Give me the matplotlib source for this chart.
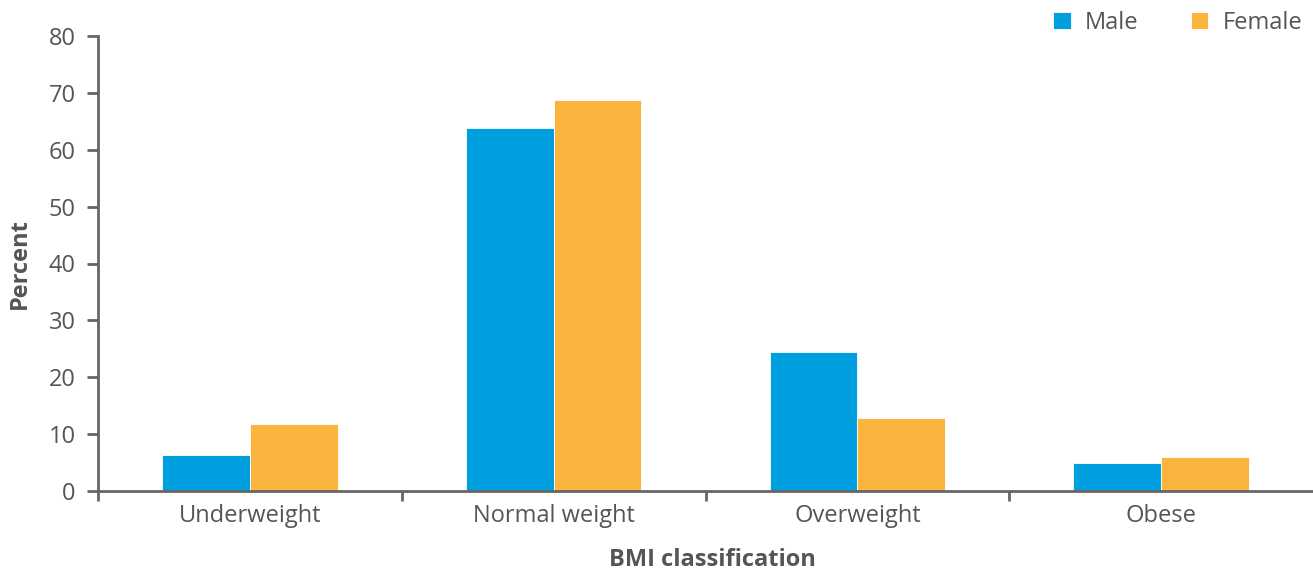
import matplotlib
matplotlib.use("Agg")
import matplotlib.pyplot as plt
import numpy as np

categories = ["Underweight", "Normal weight", "Overweight", "Obese"]
male = [6.4, 63.8, 24.5, 4.9]
female = [11.8, 68.7, 12.8, 6.0]
yticks = [0, 10, 20, 30, 40, 50, 60, 70, 80]

plt.rcParams['font.family'] = ['Open Sans', 'DejaVu Sans']
TXT = '#555555'
SP = '#666666'
BLUE = '#009FE0'
ORANGE = '#FBB53F'
FS = 17

fig = plt.figure(figsize=(13.13, 5.74), dpi=100)
ax = fig.add_axes([98/1313, 1-491/574, 1-98/1313, (491-36)/574])

x = np.arange(len(categories))
w = 0.289
ax.bar(x - w/2, male, w, color=BLUE, edgecolor='white', linewidth=0.6, label='Male')
ax.bar(x + w/2, female, w, color=ORANGE, edgecolor='white', linewidth=0.6, label='Female')

ax.set_xlim(-0.5, len(categories) - 0.5)
ax.set_ylim(0, 80)
ax.set_yticks(yticks)
ax.set_yticklabels([str(t) for t in yticks])
ax.set_xticks(x)
ax.set_xticklabels(categories)
ax.tick_params(axis='x', length=0, pad=9, labelsize=FS, labelcolor=TXT)
ax.set_xticks(np.arange(len(categories)) - 0.5, minor=True)
ax.tick_params(axis='x', which='minor', length=7, width=2, color=SP, direction='out')
ax.tick_params(axis='y', length=8, width=2, color=SP, labelsize=FS, labelcolor=TXT, pad=8)

for s in ['top', 'right']:
    ax.spines[s].set_visible(False)
for s in ['left', 'bottom']:
    ax.spines[s].set_color(SP)
    ax.spines[s].set_linewidth(2)

ax.set_ylabel('Percent', fontsize=FS, fontweight='bold', color=TXT, labelpad=12)
ax.set_xlabel('BMI classification', fontsize=FS, fontweight='bold', color=TXT, labelpad=14)
ax.xaxis.set_label_coords(0.506, -0.125)

leg = fig.legend(loc='upper right', bbox_to_anchor=(1.0, 1.0), ncol=2, frameon=False,
                 fontsize=FS, handlelength=0.76, handleheight=0.76, handletextpad=0.6,
                 columnspacing=2.2, labelcolor=TXT, borderaxespad=0.05)

fig.savefig('out.png', dpi=100)
